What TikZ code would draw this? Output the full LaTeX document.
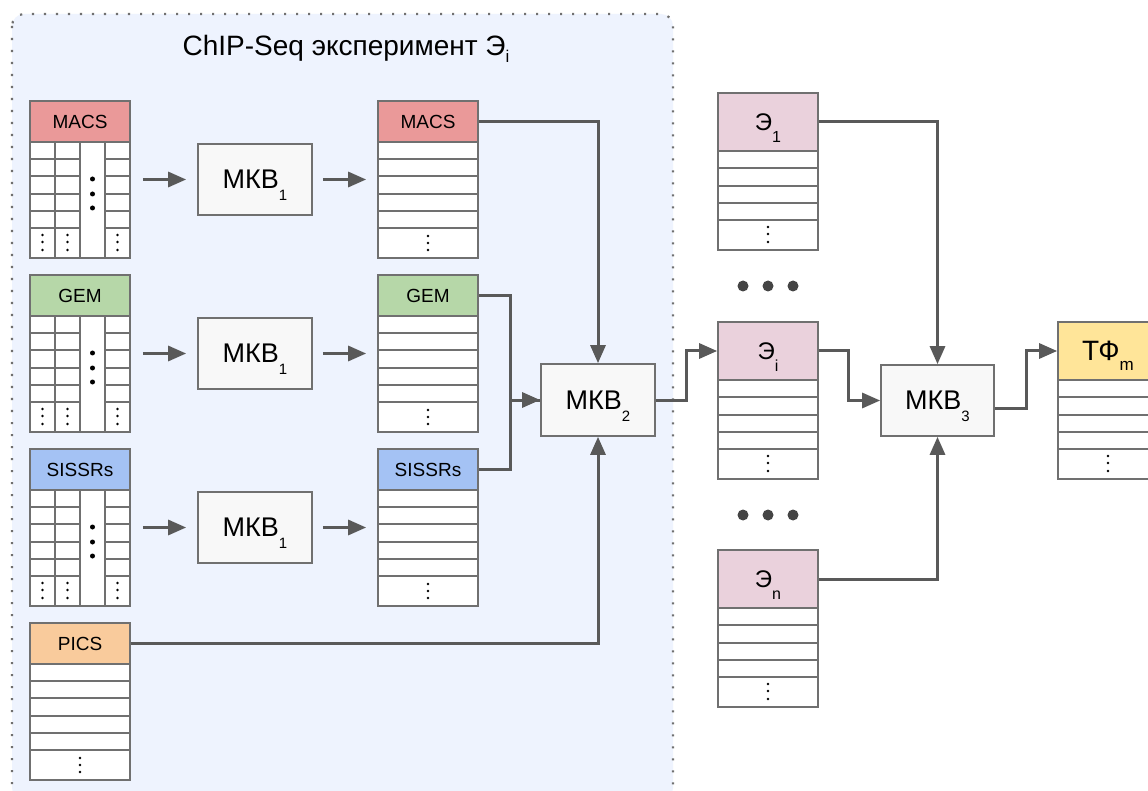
\documentclass[tikz,border=0pt]{standalone}
\usepackage{fontspec}
\setmainfont{Liberation Sans}
\usetikzlibrary{arrows.meta,calc}
\definecolor{boxbg}{HTML}{EEF3FE}
\definecolor{arrc}{HTML}{595959}
\definecolor{tcol}{HTML}{707070}
\definecolor{mkbfill}{HTML}{F8F8F8}
\definecolor{dotc}{HTML}{444444}
\definecolor{cmacs}{HTML}{EA9999}
\definecolor{cgem}{HTML}{B6D7A8}
\definecolor{csissrs}{HTML}{A4C2F4}
\definecolor{cpics}{HTML}{F9CB9C}
\definecolor{cexp}{HTML}{EAD1DC}
\definecolor{ctf}{HTML}{FFE599}
\newcommand\SubT[3]{\smash{\raisebox{-#2pt}{\fontsize{#1}{#1}\selectfont #3}}}
\tikzset{
  tbody/.style={draw=tcol, fill=white, line width=1.7pt, inner sep=0pt, minimum width=100pt, minimum height=157pt},
  thead/.style={draw=tcol, line width=1.7pt, inner sep=0pt, minimum width=100pt, font=\fontsize{19}{22}\selectfont},
  tline/.style={draw=tcol, line width=1.7pt},
  mkb/.style={draw=tcol, fill=mkbfill, line width=1.7pt, inner sep=0pt, minimum width=114pt, minimum height=71pt, font=\fontsize{27}{30}\selectfont},
  arr/.style={draw=arrc, line width=3pt, -{Triangle[length=18pt,width=15pt]}},
  conn/.style={draw=arrc, line width=3pt},
  container/.style={draw=tcol, fill=boxbg, line width=2.2pt, dash pattern=on 2.2pt off 9.8pt, rounded corners=12pt}
}
\newcommand\SrcTab[5]{%
\begin{scope}[shift={(#2,#3)}]
\node[tbody] (#1) at (50,78.5) {};
\node[thead, fill=#4, minimum height=41pt] (#1h) at (50,20.5) {#5};
\foreach \yy in {58,75,93,110,127}{\draw[tline] (0,\yy) -- (50,\yy); \draw[tline] (75,\yy) -- (100,\yy);}
\foreach \xx in {25,50,75}{\draw[tline] (\xx,41) -- (\xx,157);}
\foreach \yy in {78,93,107}{\fill (62.5,\yy) circle (2.5pt);}
\foreach \xx in {12.5,37.5,87.5}{\foreach \yy in {134,141,149}{\fill (\xx,\yy) circle (1.4pt);}}
\end{scope}}
\newcommand\MidTab[5]{%
\begin{scope}[shift={(#2,#3)}]
\node[tbody] (#1) at (50,78.5) {};
\node[thead, fill=#4, minimum height=41pt] (#1h) at (50,20.5) {#5};
\foreach \yy in {58,75,93,110,127}{\draw[tline] (0,\yy) -- (100,\yy);}
\foreach \yy in {135,142,149}{\fill (50,\yy) circle (1.4pt);}
\end{scope}}
\newcommand\ETab[5]{%
\begin{scope}[shift={(#2,#3)}]
\node[tbody] (#1) at (50,78.5) {};
\node[thead, fill=#4, minimum height=58pt] (#1h) at (50,29) {#5};
\foreach \yy in {75,93,110,127}{\draw[tline] (0,\yy) -- (100,\yy);}
\foreach \yy in {134,141,149}{\fill (50,\yy) circle (1.4pt);}
\end{scope}}
\begin{document}
\begin{tikzpicture}[x=1pt,y=-1pt]
\useasboundingbox (0,0) rectangle (1148,791);
\clip (0,0) rectangle (1148,791);
\fill[white] (0,0) rectangle (1148,791);
% container
\draw[container] (12,14) rectangle (673,800);
\node[anchor=base, font=\fontsize{28}{32}\selectfont, inner sep=0pt] (title) at (346,56) {ChIP-Seq эксперимент Э\SubT{17}{7}{i}};
% source tables
\SrcTab{macs}{30}{101}{cmacs}{MACS}
\SrcTab{gem}{30}{275}{cgem}{GEM}
\SrcTab{sissrs}{30}{449}{csissrs}{SISSRs}
\MidTab{pics}{30}{623}{cpics}{PICS}
% MKB1
\node[mkb] (mkba) at (255,179.5) {МКВ\SubT{15}{12}{1}};
\node[mkb] (mkbb) at (255,353.5) {МКВ\SubT{15}{12}{1}};
\node[mkb] (mkbc) at (255,527.5) {МКВ\SubT{15}{12}{1}};
% middle tables
\MidTab{macsm}{378}{101}{cmacs}{MACS}
\MidTab{gemm}{378}{275}{cgem}{GEM}
\MidTab{sissrsm}{378}{449}{csissrs}{SISSRs}
% MKB2, MKB3
\node[mkb, minimum height=72pt] (mkb2) at (598,400) {МКВ\SubT{15}{12}{2}};
\node[mkb, minimum width=113pt] (mkb3) at (937.5,400.5) {МКВ\SubT{15}{12}{3}};
% experiment tables
\ETab{ea}{718}{93}{cexp}{\fontsize{24}{28}\selectfont Э\SubT{16}{12}{1}}
\ETab{ei}{718}{322}{cexp}{\fontsize{24}{28}\selectfont Э\SubT{16}{12}{i}}
\ETab{en}{718}{550}{cexp}{\fontsize{24}{28}\selectfont Э\SubT{16}{12}{n}}
\ETab{tf}{1058}{322}{ctf}{\fontsize{28}{32}\selectfont ТФ\SubT{17}{10}{m}}
% ellipsis dots
\foreach \xx in {743,768,793}{\fill[dotc] (\xx,286) circle (5.5pt); \fill[dotc] (\xx,515) circle (5.5pt);}
% arrows into MKB1 and out
\foreach \s/\m/\t in {macs/mkba/macsm, gem/mkbb/gemm, sissrs/mkbc/sissrsm}{
  \draw[arr, shorten <=12pt, shorten >=11pt] (\s.east |- \m.west) -- (\m.west);
  \draw[arr, shorten <=10pt, shorten >=11pt] (\m.east) -- (\m.east -| \t.west);
}
% into MKB2
\draw[arr] (macsmh.east) -| (mkb2.north);
\draw[conn] (sissrsmh.east) -- ++(32,0) |- (mkb2.west);
\draw[arr] (gemmh.east) -- ++(32,0) |- (mkb2.west);
\draw[arr] (picsh.east) -| (mkb2.south);
% MKB2 -> Ei
\draw[arr] (mkb2.east) -- ++(31,0) |- (eih.west);
% into MKB3
\draw[arr] (eah.east) -| (mkb3.north);
\draw[arr] (eih.east) -- ++(30,0) |- (mkb3.west);
\draw[arr] (enh.east) -| (mkb3.south);
% MKB3 -> TF
\draw[arr] ([yshift=-8pt]mkb3.east) -- ++(32,0) |- (tfh.west);
\end{tikzpicture}
\end{document}
